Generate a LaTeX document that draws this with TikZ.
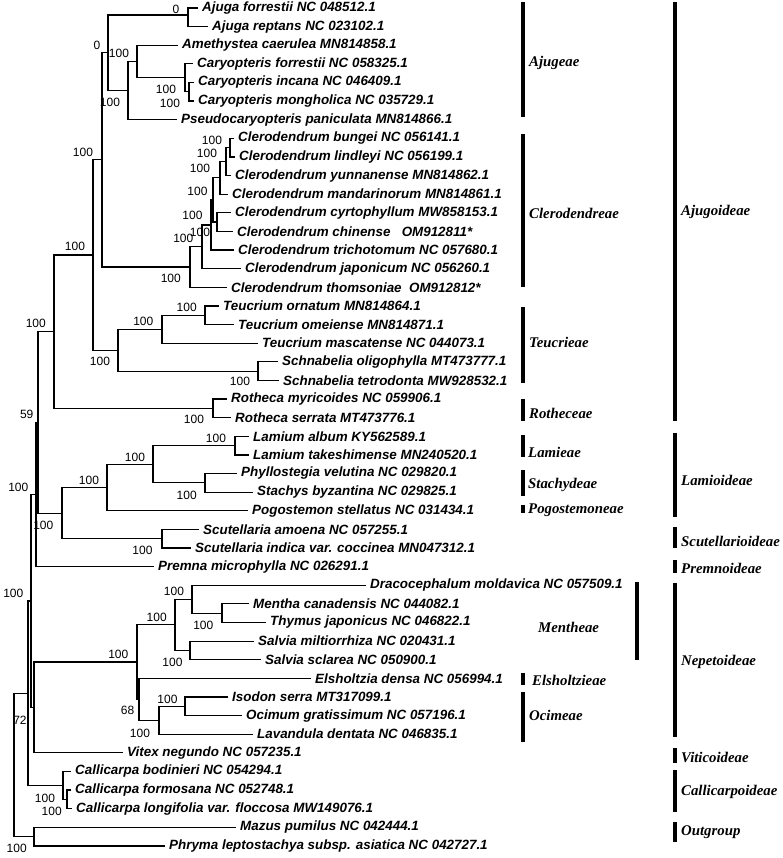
\documentclass[tikz,border=0pt]{standalone}
\usepackage{fontspec}
\setmainfont{Liberation Sans}
\newfontfamily\taxonfont{Liberation Sans}
\newfontfamily\cladefont{Liberation Serif}
\usetikzlibrary{positioning}
\tikzstyle{branch} = [line width=1.2pt, black]
\tikzstyle{leaf} = [anchor=west, 
inner xsep=4pt, 
inner ysep=0pt, 
font=\taxonfont\bfseries\itshape\fontsize{13.4}{15}\selectfont]
\tikzstyle{bs} = [inner sep=0pt, 
font=\taxonfont\fontsize{12}{14}\selectfont]
\tikzstyle{bar} = [line width=3.3pt, black]
\tikzstyle{clade} = [anchor=west, 
inner sep=0pt, 
font=\cladefont\bfseries\itshape\fontsize{14.8}{17}\selectfont]

\begin{document}
\begin{tikzpicture}[x=1pt, y=-1pt]
	\useasboundingbox (0,0) rectangle (782,858);
	
	% leaves
	\node (ajfor) [leaf] at (198,8.0) {Ajuga forrestii NC 048512.1};
	\node (ajrep) [leaf] at (208,26.6) {Ajuga reptans NC 023102.1};
	\node (amet) [leaf] at (178,45.2) {Amethystea caerulea MN814858.1};
	\node (caryf) [leaf] at (193,63.9) {Caryopteris forrestii NC 058325.1};
	\node (caryi) [leaf] at (194,82.5) {Caryopteris incana NC 046409.1};
	\node (carym) [leaf] at (194,101.1) {Caryopteris mongholica NC 035729.1};
	\node (pseudo) [leaf] at (177,119.7) {Pseudocaryopteris paniculata MN814866.1};
	\node (clbun) [leaf] at (234,138.3) {Clerodendrum bungei NC 056141.1};
	\node (cllin) [leaf] at (235,157.0) {Clerodendrum lindleyi NC 056199.1};
	\node (clyun) [leaf] at (231,175.6) {Clerodendrum yunnanense MN814862.1};
	\node (clman) [leaf] at (228,194.2) {Clerodendrum mandarinorum MN814861.1};
	\node (clcyr) [leaf] at (231,212.8) {Clerodendrum cyrtophyllum MW858153.1};
	\node (clchi) [leaf] at (233,231.4) {Clerodendrum chinense~~~OM912811*};
	\node (cltri) [leaf] at (234,250.1) {Clerodendrum trichotomum NC 057680.1};
	\node (cljap) [leaf] at (241,268.7) {Clerodendrum japonicum NC 056260.1};
	\node (clthom) [leaf] at (227,287.3) {Clerodendrum thomsoniae~~OM912812*};
	\node (teorn) [leaf] at (219,305.9) {Teucrium ornatum MN814864.1};
	\node (teome) [leaf] at (234,324.5) {Teucrium omeiense MN814871.1};
	\node (temas) [leaf] at (258,343.2) {Teucrium mascatense NC 044073.1};
	\node (scolig) [leaf] at (278,361.8) {Schnabelia oligophylla MT473777.1};
	\node (sctet) [leaf] at (279,380.4) {Schnabelia tetrodonta MW928532.1};
	\node (romyr) [leaf] at (227,399.0) {Rotheca myricoides NC 059906.1};
	\node (roser) [leaf] at (231,417.6) {Rotheca serrata MT473776.1};
	\node (laalb) [leaf] at (249,436.3) {Lamium album KY562589.1};
	\node (latak) [leaf] at (249,454.9) {Lamium takeshimense MN240520.1};
	\node (phvel) [leaf] at (237,473.5) {Phyllostegia velutina NC 029820.1};
	\node (stbyz) [leaf] at (253,492.1) {Stachys byzantina NC 029825.1};
	\node (pogst) [leaf] at (248,510.7) {Pogostemon stellatus NC 031434.1};
	\node (scamo) [leaf] at (199,529.4) {Scutellaria amoena NC 057255.1};
	\node (scind) [leaf] at (191,548.0) {Scutellaria indica var. coccinea MN047312.1};
	\node (premna) [leaf] at (154,566.6) {Premna microphylla NC 026291.1};
	\node (draco) [leaf] at (366,585.2) {Dracocephalum moldavica NC 057509.1};
	\node (mentha) [leaf] at (249,603.8) {Mentha canadensis NC 044082.1};
	\node (thymus) [leaf] at (266,622.5) {Thymus japonicus NC 046822.1};
	\node (salmil) [leaf] at (254,641.1) {Salvia miltiorrhiza NC 020431.1};
	\node (salscl) [leaf] at (261,659.7) {Salvia sclarea NC 050900.1};
	\node (elsh) [leaf] at (311,678.3) {Elsholtzia densa NC 056994.1};
	\node (isodon) [leaf] at (228,696.9) {Isodon serra MT317099.1};
	\node (ocimum) [leaf] at (242,715.6) {Ocimum gratissimum NC 057196.1};
	\node (lavand) [leaf] at (253,734.2) {Lavandula dentata NC 046835.1};
	\node (vitex) [leaf] at (123,752.8) {Vitex negundo NC 057235.1};
	\node (calbod) [leaf] at (71,771.4) {Callicarpa bodinieri NC 054294.1};
	\node (calfor) [leaf] at (71,790.0) {Callicarpa formosana NC 052748.1};
	\node (callon) [leaf] at (72,808.7) {Callicarpa longifolia var. floccosa MW149076.1};
	\node (mazus) [leaf] at (236,827.3) {Mazus pumilus NC 042444.1};
	\node (phryma) [leaf] at (165,845.9) {Phryma leptostachya subsp. asiatica NC 042727.1};
	
	% internal nodes
	\coordinate (nAjuga) at (188,15);
	\coordinate (nCary2) at (189,91.8);
	\coordinate (nCary) at (185,77.9);
	\coordinate (nAC3) at (137,61.5);
	\coordinate (nAC2) at (128,90.6);
	\coordinate (nAjg) at (108,52.8);
	\coordinate (nCl1) at (230,147.6);
	\coordinate (nCl2) at (226,161.6);
	\coordinate (nCl3) at (220,177.9);
	\coordinate (nCl4) at (217,222.1);
	\coordinate (nCl5) at (213,200.0);
	\coordinate (nCl6) at (211,225.0);
	\coordinate (nCl7) at (202,246.8);
	\coordinate (nCl8) at (190,267.0);
	\coordinate (nAC) at (102,159.9);
	\coordinate (nTeuO) at (205,315.2);
	\coordinate (nTeu2) at (162,329.2);
	\coordinate (nSch) at (258,371.1);
	\coordinate (nTeu) at (118,350.2);
	\coordinate (nAjo2) at (93,255.0);
	\coordinate (nRot) at (213,408.3);
	\coordinate (nAjo) at (54,331.7);
	\coordinate (nLam) at (235,445.6);
	\coordinate (nSta) at (205,482.8);
	\coordinate (nLS3) at (153,464.2);
	\coordinate (nLS2) at (107,487.5);
	\coordinate (nScu) at (162,538.7);
	\coordinate (nLS) at (62,513.1);
	\coordinate (nB1) at (38,422.4);
	\coordinate (nB) at (36,494.5);
	\coordinate (nMT) at (222,613.2);
	\coordinate (nMen2) at (192,599.2);
	\coordinate (nSal) at (190,650.4);
	\coordinate (nMen) at (175,624.8);
	\coordinate (nIO) at (185,706.3);
	\coordinate (nOci) at (159,720.2);
	\coordinate (nNep2) at (139,699.3);
	\coordinate (nNep) at (137,662.0);
	\coordinate (nC) at (34,707.4);
	\coordinate (nA) at (31,601.0);
	\coordinate (nCal2) at (67,799.4);
	\coordinate (nCal) at (63,785.4);
	\coordinate (nIn) at (28,693.2);
	\coordinate (nOut) at (34,836.6);
	\coordinate (root) at (14,765);
	
	% branches
	\draw [branch] (ajfor.west) -| (nAjuga) |- (ajrep.west);
	\draw [branch] (caryi.west) -| (nCary2) |- (carym.west);
	\draw [branch] (caryf.west) -| (nCary) |- (nCary2);
	\draw [branch] (amet.west) -| (nAC3) |- (nCary);
	\draw [branch] (nAC3) -| (nAC2) |- (pseudo.west);
	\draw [branch] (nAjuga) -| (nAjg) |- (nAC2);
	\draw [branch] (clbun.west) -| (nCl1) |- (cllin.west);
	\draw [branch] (nCl1) -| (nCl2) |- (clyun.west);
	\draw [branch] (nCl2) -| (nCl3) |- (clman.west);
	\draw [branch] (clcyr.west) -| (nCl4) |- (clchi.west);
	\draw [branch] (nCl3) -| (nCl5) |- (nCl4);
	\draw [branch] (nCl5) -| (nCl6) |- (cltri.west);
	\draw [branch] (nCl6) -| (nCl7) |- (cljap.west);
	\draw [branch] (nCl7) -| (nCl8) |- (clthom.west);
	\draw [branch] (nAjg) -| (nAC) |- (nCl8);
	\draw [branch] (teorn.west) -| (nTeuO) |- (teome.west);
	\draw [branch] (nTeuO) -| (nTeu2) |- (temas.west);
	\draw [branch] (scolig.west) -| (nSch) |- (sctet.west);
	\draw [branch] (nTeu2) -| (nTeu) |- (nSch);
	\draw [branch] (nAC) -| (nAjo2) |- (nTeu);
	\draw [branch] (romyr.west) -| (nRot) |- (roser.west);
	\draw [branch] (nAjo2) -| (nAjo) |- (nRot);
	\draw [branch] (laalb.west) -| (nLam) |- (latak.west);
	\draw [branch] (phvel.west) -| (nSta) |- (stbyz.west);
	\draw [branch] (nLam) -| (nLS3) |- (nSta);
	\draw [branch] (nLS3) -| (nLS2) |- (pogst.west);
	\draw [branch] (scamo.west) -| (nScu) |- (scind.west);
	\draw [branch] (nLS2) -| (nLS) |- (nScu);
	\draw [branch] (nAjo) -| (nB1) |- (nLS);
	\draw [branch] (nB1) -| (nB) |- (premna.west);
	\draw [branch] (mentha.west) -| (nMT) |- (thymus.west);
	\draw [branch] (draco.west) -| (nMen2) |- (nMT);
	\draw [branch] (salmil.west) -| (nSal) |- (salscl.west);
	\draw [branch] (nMen2) -| (nMen) |- (nSal);
	\draw [branch] (isodon.west) -| (nIO) |- (ocimum.west);
	\draw [branch] (nIO) -| (nOci) |- (lavand.west);
	\draw [branch] (elsh.west) -| (nNep2) |- (nOci);
	\draw [branch] (nMen) -| (nNep) |- (nNep2);
	\draw [branch] (nNep) -| (nC) |- (vitex.west);
	\draw [branch] (nB) -| (nA) |- (nC);
	\draw [branch] (calfor.west) -| (nCal2) |- (callon.west);
	\draw [branch] (calbod.west) -| (nCal) |- (nCal2);
	\draw [branch] (nA) -| (nIn) |- (nCal);
	\draw [branch] (mazus.west) -| (nOut) |- (phryma.west);
	\draw [branch] (nIn) -| (root) |- (nOut);
	
	% bootstrap values
	\node (bAjuga) [bs] at (176,9.5) {0};
	\node (bAjg) [bs] at (97,45) {0};
	\node (bAC3) [bs] at (119,53) {100};
	\node (bCary) [bs] at (166,89) {100};
	\node (bCary2) [bs] at (170,103) {100};
	\node (bAC2) [bs] at (110,102) {100};
	\node (bAC) [bs] at (83,152) {100};
	\node (bCl1) [bs] at (212,140) {100};
	\node (bCl2) [bs] at (207,153.3) {100};
	\node (bCl3) [bs] at (200,168.3) {100};
	\node (bCl5) [bs] at (197.5,191.7) {100};
	\node (bCl4) [bs] at (192.5,215) {100};
	\node (bCl6) [bs] at (200,232.3) {100};
	\node (bCl7) [bs] at (183.3,238.3) {100};
	\node (bCl8) [bs] at (170.8,278.3) {100};
	\node (bAjo2) [bs] at (75,246.7) {100};
	\node (bAjo) [bs] at (35.8,323.3) {100};
	\node (bTeuO) [bs] at (186.7,307.7) {100};
	\node (bTeu2) [bs] at (143.3,321.7) {100};
	\node (bTeu) [bs] at (100,361.7) {100};
	\node (bSch) [bs] at (240,381.7) {100};
	\node (bRot) [bs] at (194,419.3) {100};
	\node (bB1) [bs] at (26.7,414.3) {59};
	\node (bB) [bs] at (18.3,487.3) {100};
	\node (bLS) [bs] at (43.3,525) {100};
	\node (bLS2) [bs] at (89,480) {100};
	\node (bLS3) [bs] at (135,457.3) {100};
	\node (bLam) [bs] at (216,438.3) {100};
	\node (bSta) [bs] at (186.7,495) {100};
	\node (bScu) [bs] at (142.5,550) {100};
	\node (bA) [bs] at (13.3,593.3) {100};
	\node (bMen2) [bs] at (174,591.7) {100};
	\node (bMen) [bs] at (156.7,617.3) {100};
	\node (bMT) [bs] at (203.3,625) {100};
	\node (bNep) [bs] at (118.3,654.3) {100};
	\node (bSal) [bs] at (172.5,662.7) {100};
	\node (bIO) [bs] at (167.5,699.3) {100};
	\node (bNep2) [bs] at (127.5,710.7) {68};
	\node (bOci) [bs] at (140,733.3) {100};
	\node (bIn) [bs] at (20,720) {72};
	\node (bCal) [bs] at (45,798.3) {100};
	\node (bCal2) [bs] at (51.7,811.7) {100};
	\node (bOut) [bs] at (16.7,848.3) {100};
	
	% tribes
	\draw [bar] (523,2) -- (523,117);
	\node (tAjugeae) [clade] at (529,63) {Ajugeae};
	\draw [bar] (523,134) -- (523,287);
	\node (tCler) [clade] at (529,213) {Clerodendreae};
	\draw [bar] (523,307) -- (523,383);
	\node (tTeuc) [clade] at (529,342) {Teucrieae};
	\draw [bar] (523,399) -- (523,421);
	\node (tRoth) [clade] at (529,413) {Rotheceae};
	\draw [bar] (523,435) -- (523,457);
	\node (tLam) [clade] at (528,452) {Lamieae};
	\draw [bar] (523,470) -- (523,496);
	\node (tStach) [clade] at (528,485) {Stachydeae};
	\draw [bar] (523,505) -- (523,513);
	\node (tPogo) [clade] at (528,510) {Pogostemoneae};
	\draw [bar] (637,582) -- (637,660);
	\node (tMenth) [clade] at (538,627) {Mentheae};
	\draw [bar] (523,673) -- (523,685);
	\node (tElsh) [clade] at (532,680) {Elsholtzieae};
	\draw [bar] (523,692) -- (523,742);
	\node (tOcim) [clade] at (529,715) {Ocimeae};
	
	% subfamilies
	\draw [bar] (675,2) -- (675,421);
	\node (sAjug) [clade] at (681,212) {Ajugoideae};
	\draw [bar] (675,433) -- (675,517);
	\node (sLam) [clade] at (681,480) {Lamioideae};
	\draw [bar] (675,527) -- (675,548);
	\node (sScut) [clade] at (681,541) {Scutellarioideae};
	\draw [bar] (675,560) -- (675,573);
	\node (sPrem) [clade] at (681,568) {Premnoideae};
	\draw [bar] (675,583) -- (675,737);
	\node (sNep) [clade] at (681,662) {Nepetoideae};
	\draw [bar] (675,748) -- (675,763);
	\node (sVit) [clade] at (681,757) {Viticoideae};
	\draw [bar] (675,770) -- (675,812);
	\node (sCall) [clade] at (681,792) {Callicarpoideae};
	\draw [bar] (675,822) -- (675,842);
	\node (sOut) [clade] at (681,832) {Outgroup};
	
\end{tikzpicture}
\end{document}
